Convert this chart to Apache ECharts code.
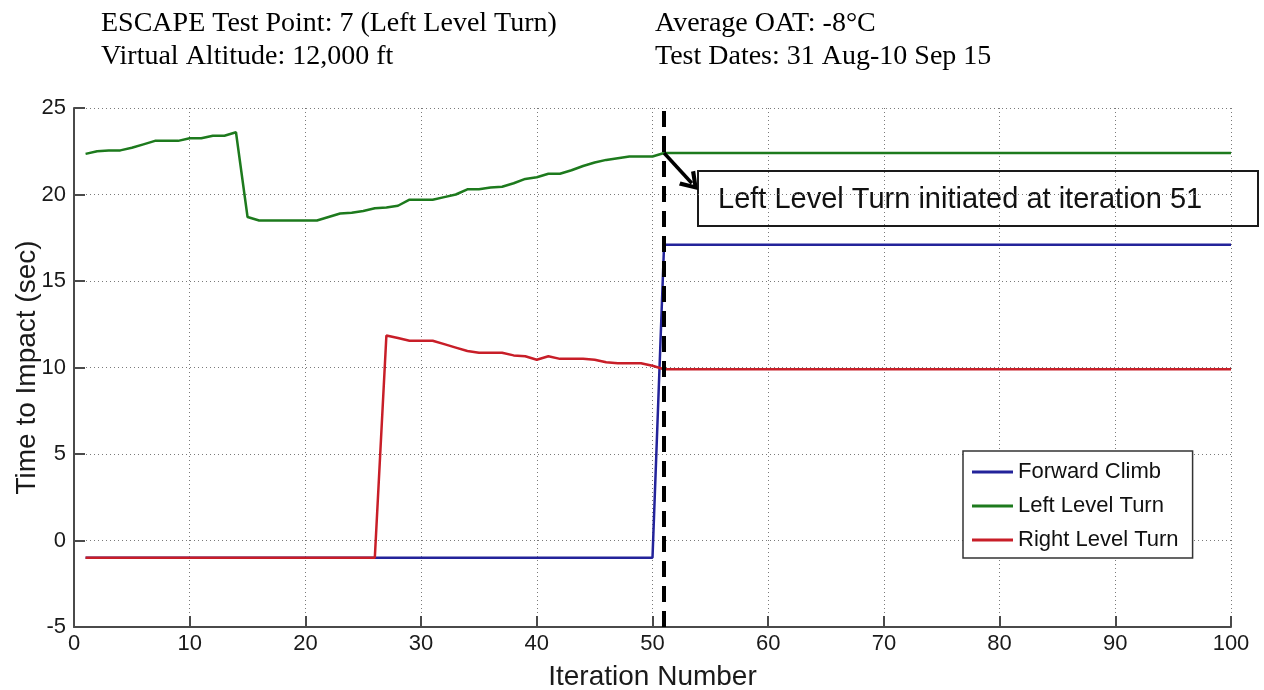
<!DOCTYPE html>
<html>
<head>
<meta charset="utf-8">
<script src="https://cdn.jsdelivr.net/npm/echarts@6/dist/echarts.min.js"></script>
<style>
  html, body { margin: 0; padding: 0; background: #ffffff; }
  #chart { width: 1264px; height: 690px; }
</style>
</head>
<body>
<div id="chart"></div>
<script>
// Time to impact per iteration for each escape manoeuvre
const seriesNames = ['Forward Climb', 'Left Level Turn', 'Right Level Turn'];

const forwardIter = [1, 50, 51, 100];
const forwardTTI  = [-1, -1, 17.1, 17.1];

const leftIter = [1, 2, 3, 4, 5, 6, 7, 8, 9, 10, 11, 12, 13, 14, 15, 16, 17, 18, 19, 20,
                  21, 22, 23, 24, 25, 26, 27, 28, 29, 30, 31, 32, 33, 34, 35, 36, 37, 38, 39, 40,
                  41, 42, 43, 44, 45, 46, 47, 48, 49, 50, 51, 100];
const leftTTI  = [22.35, 22.5, 22.55, 22.55, 22.7, 22.9, 23.1, 23.1, 23.1, 23.25, 23.25, 23.4, 23.4, 23.6, 18.7, 18.5, 18.5, 18.5, 18.5, 18.5,
                  18.5, 18.7, 18.9, 18.95, 19.05, 19.2, 19.25, 19.35, 19.7, 19.7, 19.7, 19.85, 20.0, 20.3, 20.3, 20.4, 20.45, 20.65, 20.9, 21.0,
                  21.2, 21.2, 21.4, 21.65, 21.85, 22.0, 22.1, 22.2, 22.2, 22.2, 22.4, 22.4];

const rightIter = [1, 26, 27, 28, 29, 30, 31, 32, 33, 34, 35, 36, 37, 38, 39, 40,
                   41, 42, 43, 44, 45, 46, 47, 48, 49, 50, 51, 100];
const rightTTI  = [-1, -1, 11.85, 11.7, 11.55, 11.55, 11.55, 11.35, 11.15, 10.95, 10.85, 10.85, 10.85, 10.7, 10.65, 10.45,
                   10.65, 10.5, 10.5, 10.5, 10.45, 10.3, 10.25, 10.25, 10.25, 10.1, 9.9, 9.9];

// Turn initiation marker and the annotation arrow (data coordinates)
const turnIteration = 51;
const arrowFrom = [51, 22.4];
const arrowTo   = [53.4, 20.65];

const headerLeft  = ['ESCAPE Test Point: 7 (Left Level Turn)', 'Virtual Altitude: 12,000 ft'];
const headerRight = ['Average OAT: -8\u00B0C', 'Test Dates: 31 Aug-10 Sep 15'];
const annotationText = 'Left Level Turn initiated at iteration 51';

const xAxisName = 'Iteration Number';
const yAxisName = 'Time to Impact (sec)';

const pairs = (xs, ys) => xs.map((x, i) => [x, ys[i]]);

const SANS = '"Liberation Sans", Arial, sans-serif';
const SERIF = '"Liberation Serif", "Times New Roman", serif';

const chart = echarts.init(document.getElementById('chart'), null, { renderer: 'canvas' });

const gridLine = { show: true, lineStyle: { color: '#7a7a7a', width: 1, type: [1, 3] } };
const axisLine = { show: true, onZero: false, lineStyle: { color: '#4a4a4a', width: 2 } };
const axisTick = { show: true, inside: true, length: 11, lineStyle: { color: '#4a4a4a', width: 2 } };

const chevron = 'path://M0,16 L10,0 L20,16 L16.5,18 L10,7 L3.5,18 Z';

const option = {
  animation: false,
  backgroundColor: '#ffffff',
  grid: { left: 74, right: 33, top: 108, bottom: 63, containLabel: false, outerBoundsMode: 'none' },
  xAxis: {
    type: 'value', min: 0, max: 100, interval: 10,
    name: xAxisName, nameLocation: 'middle', nameGap: 36, nameMoveOverlap: false,
    nameTextStyle: { fontFamily: SANS, fontSize: 28, color: '#1a1a1a' },
    axisLine: axisLine, axisTick: axisTick, splitLine: gridLine,
    axisLabel: { fontFamily: SANS, fontSize: 22, color: '#1a1a1a', margin: 6 }
  },
  yAxis: {
    type: 'value', min: -5, max: 25, interval: 5,
    name: yAxisName, nameLocation: 'middle', nameGap: 33, nameMoveOverlap: false,
    nameTextStyle: { fontFamily: SANS, fontSize: 28, color: '#1a1a1a' },
    axisLine: axisLine, axisTick: axisTick, splitLine: gridLine,
    axisLabel: { fontFamily: SANS, fontSize: 22, color: '#1a1a1a', margin: 8 }
  },
  legend: {
    orient: 'vertical', left: 963, top: 451,
    padding: [9, 14, 6, 9], itemGap: 10, itemWidth: 41, itemHeight: 3,
    icon: 'rect',
    backgroundColor: '#ffffff', borderColor: '#333333', borderWidth: 1.5,
    textStyle: { fontFamily: SANS, fontSize: 22, color: '#111111', lineHeight: 24 },
    data: seriesNames
  },
  series: [
    {
      name: seriesNames[0], type: 'line', symbol: 'none', showSymbol: false,
      color: '#23239a', lineStyle: { width: 2.5 },
      data: pairs(forwardIter, forwardTTI), z: 2
    },
    {
      name: seriesNames[1], type: 'line', symbol: 'none', showSymbol: false,
      color: '#1d7a1d', lineStyle: { width: 2.5 },
      data: pairs(leftIter, leftTTI), z: 3
    },
    {
      name: seriesNames[2], type: 'line', symbol: 'none', showSymbol: false,
      color: '#c81e28', lineStyle: { width: 2.5 },
      data: pairs(rightIter, rightTTI), z: 4,
      markLine: {
        silent: true, animation: false, z: 10,
        symbol: ['none', 'none'],
        label: { show: false },
        emphasis: { disabled: true },
        data: [
          { xAxis: turnIteration, lineStyle: { color: '#000000', width: 4, type: [16, 9] } },
          [
            { coord: arrowFrom, symbol: 'none', lineStyle: { color: '#000000', width: 3.5, type: 'solid' } },
            { coord: arrowTo, symbol: chevron, symbolSize: [22, 18] }
          ]
        ]
      }
    }
  ],
  graphic: [
    { type: 'text', left: 101, top: 10, z: 50,
      style: { text: headerLeft[0], font: '28px ' + SERIF, fill: '#000000' } },
    { type: 'text', left: 101, top: 43, z: 50,
      style: { text: headerLeft[1], font: '28px ' + SERIF, fill: '#000000' } },
    { type: 'text', left: 655, top: 10, z: 50,
      style: { text: headerRight[0], font: '28px ' + SERIF, fill: '#000000' } },
    { type: 'text', left: 655, top: 43, z: 50,
      style: { text: headerRight[1], font: '28px ' + SERIF, fill: '#000000' } },
    {
      type: 'group', left: 697, top: 170, z: 60,
      children: [
        { type: 'rect', shape: { x: 0, y: 0, width: 560, height: 55 },
          style: { fill: '#ffffff', stroke: '#1a1a1a', lineWidth: 2 } },
        { type: 'text', x: 20, y: 29,
          style: { text: annotationText, font: '29px ' + SANS, fill: '#111111', verticalAlign: 'middle' } }
      ]
    }
  ]
};

chart.setOption(option);
</script>
</body>
</html>
